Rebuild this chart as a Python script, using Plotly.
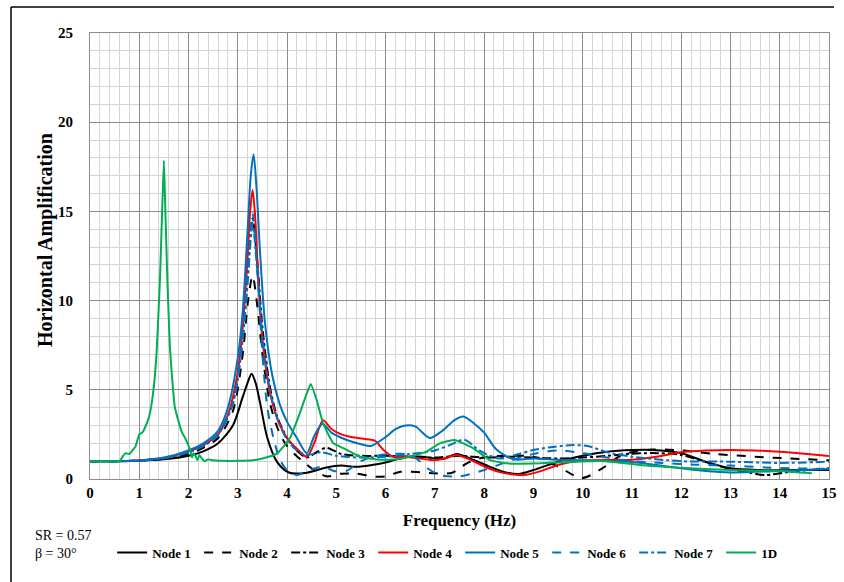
import plotly.graph_objects as go

# Frequency (Hz) / horizontal amplification for each node and the 1D column
f_node1 = [0, 0.5, 1.0, 1.5, 2.0, 2.3, 2.6, 2.9, 3.1, 3.2, 3.28, 3.36, 3.45, 3.6, 3.8, 4.05, 4.4, 4.8, 5.1, 5.4,
           5.75, 6.1, 6.45, 6.75, 7.0, 7.2, 7.44, 7.8, 8.1, 8.4, 8.7, 9.0, 9.5, 10.0, 10.5, 11.0, 11.4, 12.0,
           12.5, 13.0, 13.6, 14.3, 15.0]
a_node1 = [1.0, 1.0, 1.02, 1.1, 1.3, 1.55, 2.0, 3.0, 4.6, 5.4, 5.9, 5.4, 4.3, 2.3, 0.95, 0.35, 0.35, 0.65, 0.75, 0.68,
           0.8, 1.0, 1.25, 1.25, 1.15, 1.15, 1.4, 1.06, 0.7, 0.4, 0.28, 0.5, 0.97, 1.3, 1.53, 1.62, 1.63, 1.45,
           0.97, 0.6, 0.5, 0.5, 0.5]

f_node2 = [0, 0.5, 1.0, 1.5, 2.0, 2.3, 2.6, 2.9, 3.1, 3.2, 3.3, 3.4, 3.5, 3.65, 3.8, 3.96, 4.15, 4.33, 4.55, 4.8,
           5.1, 5.4, 5.8, 6.0, 6.3, 6.7, 7.0, 7.35, 7.65, 8.05, 8.5, 9.0, 9.5, 9.98, 10.4, 10.8, 11.4, 12.0,
           12.7, 13.5, 14.2, 15.0]
a_node2 = [1.0, 1.0, 1.03, 1.15, 1.4, 1.75, 2.3, 3.8, 7.0, 9.8, 11.4, 9.6, 7.0, 4.3, 2.9, 2.0, 1.4, 0.97, 0.5, 0.15,
           0.3, 0.3, 0.13, 0.15, 0.4, 0.38, 0.32, 0.35, 0.88, 1.25, 1.3, 1.25, 0.7, 0.05, 0.6, 1.35, 1.65, 1.6,
           1.4, 1.25, 1.15, 1.05]

f_node3 = [0, 0.5, 1.0, 1.5, 2.0, 2.3, 2.6, 2.9, 3.1, 3.2, 3.3, 3.4, 3.5, 3.65, 3.8, 4.0, 4.2, 4.4, 4.6, 4.8,
           5.1, 5.5, 6.0, 6.5, 7.0, 7.5, 8.0, 8.5, 9.0, 9.5, 10.0, 10.5, 11.0, 11.5, 12.0, 12.5, 13.0, 13.4,
           13.7, 14.2, 15.0]
a_node3 = [1.0, 1.0, 1.04, 1.17, 1.5, 1.85, 2.5, 4.3, 8.0, 11.5, 14.6, 12.0, 8.5, 5.2, 3.5, 2.3, 1.6, 1.2, 1.5, 1.75,
           1.4, 1.3, 1.3, 1.25, 1.2, 1.3, 1.2, 1.25, 1.2, 1.15, 1.2, 1.3, 1.42, 1.45, 1.35, 0.95, 0.55, 0.35,
           0.22, 0.4, 0.6]

f_node4 = [0, 0.5, 1.0, 1.5, 2.0, 2.3, 2.6, 2.8, 3.0, 3.1, 3.2, 3.25, 3.3, 3.35, 3.42, 3.5, 3.65, 3.8, 4.0, 4.2,
           4.4, 4.55, 4.73, 4.9, 5.1, 5.3, 5.55, 5.78, 5.95, 6.15, 6.4, 6.7, 7.0, 7.2, 7.44, 7.7, 8.0, 8.3, 8.6,
           8.8, 9.1, 9.5, 9.8, 10.2, 10.6, 11.0, 11.5, 12.0, 12.5, 13.0, 13.5, 14.0, 14.5, 15.0]
a_node4 = [1.0, 1.0, 1.04, 1.18, 1.55, 1.9, 2.5, 3.6, 6.0, 8.5, 12.5, 15.0, 16.2, 14.8, 11.0, 7.8, 4.9, 3.4, 2.3, 1.7,
           1.25, 2.0, 3.3, 2.8, 2.5, 2.35, 2.25, 2.15, 1.65, 1.25, 1.25, 1.15, 1.05, 1.15, 1.35, 1.1, 0.7, 0.4, 0.25,
           0.22, 0.4, 0.78, 0.97, 1.05, 1.06, 1.08, 1.25, 1.5, 1.6, 1.63, 1.6, 1.53, 1.42, 1.29]

f_node5 = [0, 0.5, 1.0, 1.5, 2.0, 2.3, 2.6, 2.8, 3.0, 3.1, 3.2, 3.26, 3.32, 3.38, 3.45, 3.55, 3.7, 3.85, 4.0, 4.2,
           4.4, 4.55, 4.72, 4.9, 5.2, 5.5, 5.7, 6.0, 6.2, 6.4, 6.6, 6.9, 7.15, 7.4, 7.58, 7.8, 8.0, 8.25, 8.6,
           9.0, 9.5, 10.0, 10.5, 11.0, 11.5, 12.0, 12.5, 13.0, 13.5, 14.0, 14.5, 15.0]
a_node5 = [1.0, 1.0, 1.04, 1.2, 1.6, 2.0, 2.7, 4.0, 6.8, 9.4, 14.0, 16.9, 18.2, 16.3, 12.8, 8.8, 5.8, 4.2, 3.2, 2.3,
           1.45, 2.4, 3.1, 2.6, 2.2, 1.95, 1.85, 2.35, 2.8, 3.0, 2.95, 2.3, 2.7, 3.3, 3.5, 3.1, 2.6, 1.65, 1.1,
           1.15, 1.08, 1.05, 1.0, 0.95, 0.78, 0.6, 0.45, 0.37, 0.4, 0.45, 0.5, 0.56]

f_node6 = [0, 0.5, 1.0, 1.5, 2.0, 2.3, 2.6, 2.9, 3.1, 3.2, 3.3, 3.4, 3.5, 3.6, 3.75, 3.86, 4.0, 4.2, 4.45, 4.73,
           4.95, 5.2, 5.5, 5.8, 6.1, 6.4, 6.6, 6.85, 7.1, 7.5, 8.0, 8.5, 9.0, 9.5, 10.0, 10.5, 11.0, 11.6, 12.3,
           13.0, 13.7, 14.3, 15.0]
a_node6 = [1.0, 1.0, 1.03, 1.17, 1.5, 1.85, 2.5, 4.2, 8.0, 11.5, 14.9, 11.5, 7.0, 4.0, 2.0, 1.06, 0.5, 0.22, 0.5, 0.69,
           0.45, 0.45, 1.0, 1.3, 1.4, 1.4, 1.2, 0.6, 0.22, 0.15, 0.5, 1.0, 1.4, 1.6, 1.45, 1.2, 1.0, 0.9, 0.8,
           0.75, 0.65, 0.6, 0.56]

f_node7 = [0, 0.5, 1.0, 1.5, 2.0, 2.3, 2.6, 2.9, 3.1, 3.2, 3.3, 3.4, 3.5, 3.65, 3.8, 4.0, 4.2, 4.4, 4.7, 5.0,
           5.5, 6.0, 6.5, 7.0, 7.3, 7.6, 7.9, 8.3, 8.7, 9.0, 9.4, 9.8, 10.1, 10.5, 11.0, 12.0, 13.0, 14.0, 15.0]
a_node7 = [1.0, 1.0, 1.03, 1.16, 1.5, 1.85, 2.5, 4.2, 7.8, 11.0, 14.3, 11.5, 8.0, 5.0, 3.4, 2.2, 1.6, 1.35, 1.5, 1.3,
           1.2, 1.25, 1.4, 1.6, 1.9, 2.2, 1.6, 1.15, 1.4, 1.63, 1.8, 1.9, 1.85, 1.5, 1.25, 1.0, 0.97, 0.9, 0.97]

f_1d = [0, 0.3, 0.6, 0.65, 0.72, 0.8, 0.86, 0.92, 1.0, 1.06, 1.12, 1.2, 1.28, 1.35, 1.42, 1.47, 1.50, 1.53, 1.57,
        1.62, 1.66, 1.72, 1.79, 1.86, 1.93, 1.98, 2.03, 2.07, 2.1, 2.14, 2.18, 2.22, 2.27, 2.33, 2.4, 2.5, 2.7,
        3.0, 3.3, 3.5, 3.8, 4.06, 4.26, 4.4, 4.48, 4.6, 4.73, 4.94, 5.14, 5.48, 5.82, 6.16, 6.5, 6.83, 7.1, 7.4,
        7.78, 8.12, 8.46, 9.13, 9.81, 10.49, 11.16, 11.97, 12.99, 14.0, 14.65]
a_1d = [1.0, 1.0, 1.0, 1.2, 1.45, 1.4, 1.6, 1.8, 2.5, 2.6, 2.9, 3.5, 4.8, 7.0, 11.2, 15.5, 17.85, 15.0, 11.2,
        7.5, 5.9, 4.05, 3.3, 2.65, 2.3, 2.0, 1.65, 1.2, 1.45, 1.3, 1.05, 1.35, 1.15, 1.0, 1.1, 1.05, 1.02,
        1.02, 1.05, 1.15, 1.44, 2.3, 3.7, 4.8, 5.32, 4.43, 3.13, 2.0, 1.73, 1.25, 1.1, 1.1, 1.25, 1.53, 2.0, 2.19,
        1.72, 1.06, 0.88, 0.88, 0.97, 1.0, 0.78, 0.63, 0.5, 0.45, 0.32]

x_ticks = list(range(0, 16))
y_ticks = [0, 5, 10, 15, 20, 25]

BLACK = "#000000"
RED = "#ff0000"
BLUE = "#0070c0"
GREEN = "#00b050"
SERIF = "Liberation Serif"

series = [
    ("Node 1", f_node1, a_node1, BLACK, "solid"),
    ("Node 2", f_node2, a_node2, BLACK, "dash"),
    ("Node 3", f_node3, a_node3, BLACK, "dashdot"),
    ("Node 4", f_node4, a_node4, RED, "solid"),
    ("Node 5", f_node5, a_node5, BLUE, "solid"),
    ("Node 6", f_node6, a_node6, BLUE, "dash"),
    ("Node 7", f_node7, a_node7, BLUE, "dashdot"),
]

fig = go.Figure()
for name, fx, ay, color, dash in series:
    fig.add_trace(go.Scatter(
        x=fx, y=ay, name=name, mode="lines",
        line=dict(color=color, width=2, dash=dash, shape="spline", smoothing=0.8),
    ))
fig.add_trace(go.Scatter(
    x=f_1d, y=a_1d, name="1D", mode="lines",
    line=dict(color=GREEN, width=2, shape="spline", smoothing=0.4),
))

fig.update_layout(
    width=844, height=582,
    margin=dict(l=90, r=15, t=33, b=103, autoexpand=False),
    paper_bgcolor="white", plot_bgcolor="white",
    font=dict(family=SERIF, color="black"),
    showlegend=True,
    legend=dict(
        orientation="h", x=0.03, xanchor="left", y=-0.165, yanchor="middle",
        font=dict(family=SERIF, size=13, weight="bold"),
        entrywidth=42, entrywidthmode="pixels",
        itemwidth=30, tracegroupgap=0, bgcolor="rgba(0,0,0,0)",
    ),
    xaxis=dict(
        range=[0, 15], tickvals=x_ticks, ticktext=[str(v) for v in x_ticks],
        showgrid=True, gridcolor="#8c8c8c", gridwidth=1,
        minor=dict(dtick=0.2, showgrid=True, gridcolor="#d4d4d4", gridwidth=1),
        showline=True, linecolor="#8c8c8c", linewidth=1, mirror=True,
        zeroline=False, ticks="", ticklen=0,
        tickfont=dict(family=SERIF, size=15, weight="bold"),
        title=dict(text="Frequency (Hz)", font=dict(family=SERIF, size=17, weight="bold"), standoff=14),
    ),
    yaxis=dict(
        range=[0, 25], tickvals=y_ticks, ticktext=[str(v) for v in y_ticks],
        showgrid=True, gridcolor="#8c8c8c", gridwidth=1,
        minor=dict(dtick=1, showgrid=True, gridcolor="#d4d4d4", gridwidth=1),
        showline=True, linecolor="#8c8c8c", linewidth=1, mirror=True,
        zeroline=False, ticks="", ticklen=0, ticklabelstandoff=13,
        tickfont=dict(family=SERIF, size=15, weight="bold"),
    ),
)

# vertical axis title, placed slightly above the plot-area centre
fig.add_annotation(text="Horizontal Amplification", xref="paper", yref="paper",
                   x=(45 - 90) / 739, y=(479 - 240) / 446, xanchor="center", yanchor="middle",
                   textangle=-90, showarrow=False,
                   font=dict(family=SERIF, size=20, weight="bold", color="black"))

# site ratio and incidence angle notes beside the legend
fig.add_annotation(text="SR = 0.57", xref="paper", yref="paper", x=(33 - 90) / 739, y=(479 - 535) / 446,
                   xanchor="left", yanchor="middle", showarrow=False,
                   font=dict(family=SERIF, size=14, color="black"))
fig.add_annotation(text="β = 30°", xref="paper", yref="paper", x=(33 - 90) / 739, y=(479 - 553) / 446,
                   xanchor="left", yanchor="middle", showarrow=False,
                   font=dict(family=SERIF, size=14, color="black"))

# outer frame lines along the top and left edges
fig.add_shape(type="line", xref="paper", yref="paper",
              x0=(11 - 90) / 739, x1=(834 - 90) / 739, y0=(479 - 7) / 446, y1=(479 - 7) / 446,
              line=dict(color="black", width=1.5))
fig.add_shape(type="line", xref="paper", yref="paper",
              x0=(11 - 90) / 739, x1=(11 - 90) / 739, y0=(479 - 7) / 446, y1=(479 - 582) / 446,
              line=dict(color="black", width=1.5))

fig.write_html("out.html")
